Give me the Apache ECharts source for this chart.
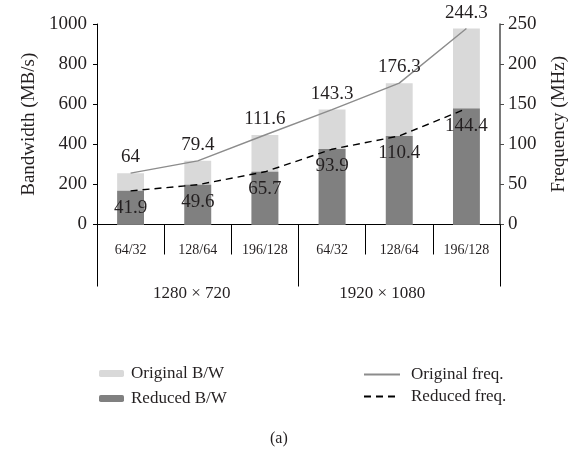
<!DOCTYPE html>
<html>
<head>
<meta charset="utf-8">
<script src="https://cdn.jsdelivr.net/npm/echarts@6/dist/echarts.min.js"></script>
<style>
  html, body { margin: 0; padding: 0; background: #fff; }
  #chart { width: 577px; height: 452px; }
</style>
</head>
<body>
<div id="chart"></div>
<script>
// Block configurations (bottom axis, inner level) and resolutions (outer level)
const configs = ['64/32', '128/64', '196/128', '64/32', '128/64', '196/128'];
const resolutions = ['1280 × 720', '1920 × 1080'];

// Bandwidth in MB/s (left axis)
const originalBW = [256, 318, 446, 573, 705, 977];
const reducedBW = [168, 198, 263, 376, 442, 578];

// Clock frequency in MHz (right axis)
const originalFreq = [64, 79.4, 111.6, 143.3, 176.3, 244.3];
const reducedFreq = [41.9, 49.6, 65.7, 93.9, 110.4, 144.4];

const bwTicks = [0, 200, 400, 600, 800, 1000];
const freqTicks = [0, 50, 100, 150, 200, 250];

const FONT = '"Liberation Serif", "DejaVu Serif", serif';
const INK = '#231f20';

const chart = echarts.init(document.getElementById('chart'), null, { renderer: 'canvas' });

// invisible point markers: they carry the value labels but are not drawn
const hiddenPoint = { opacity: 0 };

chart.setOption({
  animation: false,
  backgroundColor: '#fff',
  textStyle: { fontFamily: FONT, color: INK },
  title: {
    text: '(a)',
    left: 265,
    top: 426,
    textStyle: { fontFamily: FONT, fontSize: 16, fontWeight: 'normal', color: INK }
  },
  grid: { left: 97, right: 77, top: 24, bottom: 227.5 },
  legend: [
    {
      data: ['Original B/W', 'Reduced B/W'],
      orient: 'vertical',
      left: 94,
      top: 360,
      itemWidth: 25,
      itemHeight: 7,
      itemGap: 8,
      textStyle: { fontFamily: FONT, fontSize: 17, color: INK, padding: [0, 0, 0, 2] }
    },
    {
      data: [
        { name: 'Original freq.', itemStyle: hiddenPoint },
        { name: 'Reduced freq.', itemStyle: hiddenPoint }
      ],
      orient: 'vertical',
      left: 358,
      top: 361,
      itemWidth: 36,
      itemHeight: 10,
      itemGap: 5,
      textStyle: { fontFamily: FONT, fontSize: 17, color: INK, padding: [0, 0, 0, 6] }
    }
  ],
  xAxis: [
    {
      type: 'category',
      data: configs,
      position: 'bottom',
      boundaryGap: true,
      axisLine: { show: true, lineStyle: { color: '#000', width: 1 } },
      axisTick: { show: true, interval: 0, length: 30, lineStyle: { color: '#000', width: 1 } },
      axisLabel: { interval: 0, margin: 19, fontFamily: FONT, fontSize: 14, color: INK }
    },
    {
      type: 'category',
      data: resolutions,
      position: 'bottom',
      boundaryGap: true,
      axisLine: { show: false },
      axisTick: { show: true, interval: 0, length: 62, lineStyle: { color: '#000', width: 1 } },
      axisLabel: {
        interval: 0,
        margin: 61,
        fontFamily: FONT,
        fontSize: 17,
        color: INK,
        formatter: (v, i) => (i === 0 ? '{a|' + v + '}' : '{b|' + v + '}'),
        rich: {
          a: { fontFamily: FONT, fontSize: 17, color: INK, padding: [0, 12, 0, 0] },
          b: { fontFamily: FONT, fontSize: 17, color: INK, padding: [0, 34, 0, 0] }
        }
      }
    }
  ],
  yAxis: [
    {
      type: 'value',
      name: 'Bandwidth (MB/s)',
      nameLocation: 'middle',
      nameGap: 57,
      nameTextStyle: { fontFamily: FONT, fontSize: 19, color: INK },
      min: bwTicks[0],
      max: bwTicks[bwTicks.length - 1],
      interval: bwTicks[1] - bwTicks[0],
      axisLine: { show: true, lineStyle: { color: '#000', width: 1 } },
      axisTick: { show: true, length: 4, lineStyle: { color: '#000' } },
      axisLabel: { margin: 10, fontFamily: FONT, fontSize: 19, color: INK, formatter: v => String(v) },
      splitLine: { show: false }
    },
    {
      type: 'value',
      name: 'Frequency (MHz)',
      nameLocation: 'middle',
      nameGap: 50,
      nameRotate: 90,
      nameTextStyle: { fontFamily: FONT, fontSize: 19, color: INK },
      position: 'right',
      min: freqTicks[0],
      max: freqTicks[freqTicks.length - 1],
      interval: freqTicks[1] - freqTicks[0],
      axisLine: { show: true, lineStyle: { color: '#4d4d4d', width: 1.5 } },
      axisTick: { show: true, length: 4, lineStyle: { color: '#4d4d4d' } },
      axisLabel: { margin: 8, fontFamily: FONT, fontSize: 19, color: INK, formatter: v => String(v) },
      splitLine: { show: false }
    }
  ],
  series: [
    {
      name: 'Original B/W',
      type: 'bar',
      xAxisIndex: 0,
      yAxisIndex: 0,
      data: originalBW,
      barWidth: '40%',
      barGap: '-100%',
      itemStyle: { color: '#d9d9d9' },
      z: 1
    },
    {
      name: 'Reduced B/W',
      type: 'bar',
      xAxisIndex: 0,
      yAxisIndex: 0,
      data: reducedBW,
      barWidth: '40%',
      barGap: '-100%',
      itemStyle: { color: '#808080' },
      z: 2
    },
    {
      name: 'Original freq.',
      type: 'line',
      xAxisIndex: 0,
      yAxisIndex: 1,
      data: originalFreq,
      symbol: 'circle',
      symbolSize: 1,
      showSymbol: true,
      lineStyle: { color: '#8c8c8c', width: 1.4 },
      itemStyle: { color: '#8c8c8c', opacity: 0 },
      label: {
        show: true,
        position: 'top',
        distance: 6,
        fontFamily: FONT,
        fontSize: 19,
        color: INK,
        opacity: 1
      },
      z: 5
    },
    {
      name: 'Reduced freq.',
      type: 'line',
      xAxisIndex: 0,
      yAxisIndex: 1,
      data: reducedFreq,
      symbol: 'circle',
      symbolSize: 1,
      showSymbol: true,
      lineStyle: { color: '#000', width: 1.4, type: [7, 5] },
      itemStyle: { color: '#000', opacity: 0 },
      label: {
        show: true,
        position: 'bottom',
        distance: 7,
        fontFamily: FONT,
        fontSize: 19,
        color: INK,
        opacity: 1
      },
      z: 5
    }
  ]
});
</script>
</body>
</html>
